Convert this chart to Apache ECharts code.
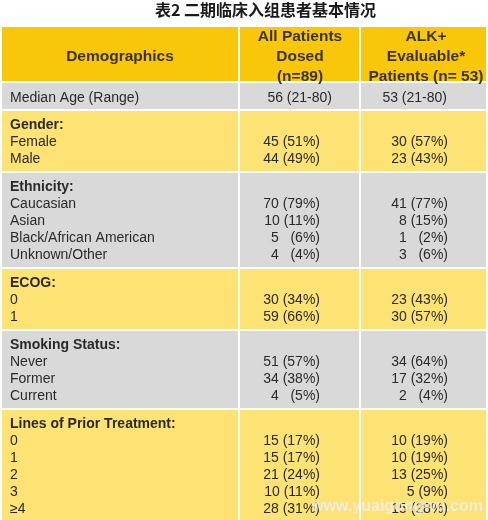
<!DOCTYPE html>
<html><head><meta charset="utf-8">
<script src="https://cdn.jsdelivr.net/npm/echarts@6/dist/echarts.min.js"></script>
<style>html,body{margin:0;padding:0;background:#fff}#c{width:488px;height:520px}</style>
</head><body><div id="c"></div>
<script>
// ---------------- data ----------------
const titleText = '表2 二期临床入组患者基本情况';
const headerLabels = ['Demographics', 'All Patients\nDosed\n(n=89)', 'ALK+\nEvaluable*\nPatients (n= 53)'];

const medianLabel = ['Median Age (Range)'];
const medianAll = ['56 (21-80)'];
const medianAlk = ['53 (21-80)'];

const genderCats = ['Female', 'Male'];
const genderAll = ['45 (51%)', '44 (49%)'];
const genderAlk = ['30 (57%)', '23 (43%)'];

const ethnicityCats = ['Caucasian', 'Asian', 'Black/African American', 'Unknown/Other'];
const ethnicityAll = ['70 (79%)', '10 (11%)', '5   (6%)', '4   (4%)'];
const ethnicityAlk = ['41 (77%)', '8 (15%)', '1   (2%)', '3   (6%)'];

const ecogCats = ['0', '1'];
const ecogAll = ['30 (34%)', '59 (66%)'];
const ecogAlk = ['23 (43%)', '30 (57%)'];

const smokingCats = ['Never', 'Former', 'Current'];
const smokingAll = ['51 (57%)', '34 (38%)', '4   (5%)'];
const smokingAlk = ['34 (64%)', '17 (32%)', '2   (4%)'];

const priorCats = ['0', '1', '2', '3', '≥4'];
const priorAll = ['15 (17%)', '15 (17%)', '21 (24%)', '10 (11%)', '28 (31%)'];
const priorAlk = ['10 (19%)', '10 (19%)', '13 (25%)', '5 (9%)', '15 (28%)'];

const sectionTitles = [null, 'Gender:', 'Ethnicity:', 'ECOG:', 'Smoking Status:', 'Lines of Prior Treatment:'];
const watermarkText = 'www.yuaigongwu.com';

// ---------------- styles / layout ----------------
const COLORS = { header: '#F8C70A', yellow: '#FDE274', grey: '#D9D9D9' };
const sectionFills = ['grey', 'yellow', 'grey', 'yellow', 'grey', 'yellow'];
const FONT = '"Liberation Sans", Arial, sans-serif';
const TXT = '#2a2a2a';
const HTXT = '#38321f';

const PITCH = 17;                 // px per text line
const GRID_TOP = 27, GRID_H = 493, GRID_LEFT = 2, GRID_W = 484;
const HEADER_H = 54 / PITCH, GAP = 2 / PITCH, PAD = 9 / PITCH;
const colEdges = [0, 238, 359, 484];
const labelX = 8, allRightX = 318, alkRightX = 446, medAllRightX = 330, medAlkRightX = 445;
const headerCenters = [118, 298, 424];

const sections = [
  [medianLabel, medianAll, medianAlk],
  [genderCats, genderAll, genderAlk],
  [ethnicityCats, ethnicityAll, ethnicityAlk],
  [ecogCats, ecogAll, ecogAlk],
  [smokingCats, smokingAll, smokingAlk],
  [priorCats, priorAll, priorAlk]
];

const cells = [];   // [x0, x1, y0, y1]
const cellColors = [];
const texts = [];   // {x, y, text, align, bold, size, color, lh}

// header
for (let c = 0; c < 3; c++) {
  cells.push([colEdges[c], colEdges[c + 1], 0, HEADER_H]);
  cellColors.push(COLORS.header);
  texts.push({ x: headerCenters[c], y: HEADER_H / 2 + 2.5 / PITCH, text: headerLabels[c], align: 'center', bold: true, size: 15.5, color: HTXT, lh: 20 });
}
let y = HEADER_H + GAP;
sections.forEach((sec, si) => {
  const [cats, all, alk] = sec;
  const title = sectionTitles[si];
  const n = cats.length + (title ? 1 : 0);
  const h = n + PAD;
  for (let c = 0; c < 3; c++) {
    cells.push([colEdges[c], colEdges[c + 1], y, y + h]);
    cellColors.push(COLORS[sectionFills[si]]);
  }
  let line = 0;
  const lineY = (i) => y + PAD / 2 + i + 0.5 + (title ? 0.05 : 0.12);
  if (title) {
    texts.push({ x: labelX, y: lineY(line), text: title, align: 'left', bold: true, size: 14, color: TXT });
    line++;
  }
  cats.forEach((cat, i) => {
    const ly = lineY(line);
    const isMedian = !title;
    texts.push({ x: labelX, y: ly, text: cat, align: 'left', bold: false, size: 14, color: TXT });
    texts.push({ x: isMedian ? medAllRightX : allRightX, y: ly, text: all[i], align: 'right', bold: false, size: 14, color: TXT });
    texts.push({ x: isMedian ? medAlkRightX : alkRightX, y: ly, text: alk[i], align: 'right', bold: false, size: 14, color: TXT });
    line++;
  });
  y += h + GAP;
});

const chart = echarts.init(document.getElementById('c'), null, { renderer: 'canvas' });
chart.setOption({
  backgroundColor: '#ffffff',
  animation: false,
  title: {
    text: titleText, left: 150, top: -3,
    textStyle: { fontFamily: '"Noto Sans CJK SC", sans-serif', fontWeight: 'bold', fontSize: 16, color: '#1a1a1a' }
  },
  grid: { left: GRID_LEFT, top: GRID_TOP, width: GRID_W, height: GRID_H },
  xAxis: { type: 'value', min: 0, max: GRID_W, show: false },
  yAxis: { type: 'value', min: 0, max: GRID_H / PITCH, inverse: true, show: false },
  series: [
    {
      type: 'custom', coordinateSystem: 'cartesian2d', silent: true, clip: false,
      data: cells,
      encode: { x: [0, 1], y: [2, 3] },
      renderItem(params, api) {
        const i = params.dataIndex;
        const p0 = api.coord([api.value(0), api.value(2)]);
        const p1 = api.coord([api.value(1), api.value(3)]);
        const inner = (api.value(1) < GRID_W) ? 2 : 0;
        return { type: 'rect', shape: { x: p0[0], y: p0[1], width: p1[0] - p0[0] - inner, height: p1[1] - p0[1] },
                 style: { fill: cellColors[i] } };
      }
    },
    {
      type: 'custom', coordinateSystem: 'cartesian2d', silent: true, clip: false, z: 5,
      data: texts.map(t => [t.x, t.y]),
      renderItem(params, api) {
        const t = texts[params.dataIndex];
        const p = api.coord([api.value(0), api.value(1)]);
        return { type: 'text', x: p[0], y: p[1],
                 style: { text: t.text, fill: t.color, fontFamily: FONT, fontSize: t.size,
                          fontWeight: t.bold ? 'bold' : 'normal', align: t.align, verticalAlign: 'middle',
                          lineHeight: t.lh || t.size * 1.2 } };
      }
    }
  ],
  graphic: [{
    type: 'text', right: 5, top: 499, z: 10, silent: true,
    style: { text: watermarkText, fill: 'rgba(238,240,248,0.8)', fontFamily: FONT, fontSize: 16, fontWeight: 'bold' }
  }]
});
</script></body></html>
